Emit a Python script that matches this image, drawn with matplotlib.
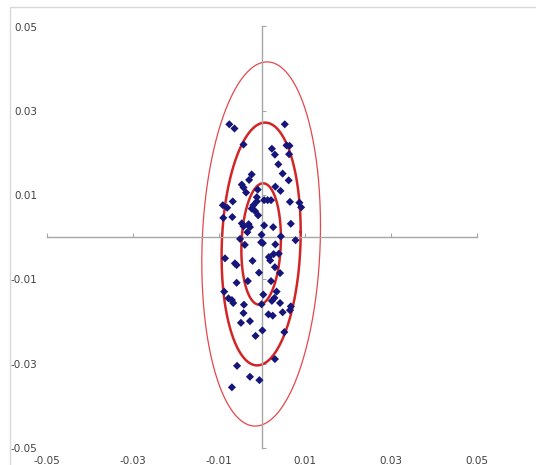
import numpy as np
import matplotlib
matplotlib.use("Agg")
import matplotlib.pyplot as plt
from matplotlib.patches import Rectangle

# scatter points
x_vals = [
    -0.0076, -0.0064, -0.0043, 0.0053, 0.0023, 0.0030, 0.0057, 0.0064, 0.0063, 0.0038,
    0.0048, -0.0024, -0.0030, 0.0062, -0.0047, -0.0043, 0.0031, 0.0043, -0.0010, -0.0037,
    -0.0012, -0.0020, 0.0005, 0.0013, 0.0021, -0.0012, 0.0065, 0.0087, -0.0091, -0.0068,
    0.0091, -0.0081, -0.0090, -0.0069, -0.0016, -0.0009, -0.0024, -0.0047, -0.0043, -0.0031,
    -0.0028, -0.0034, 0.0005, 0.0026, 0.0067, -0.0001, -0.0051, -0.0002, 0.0002, 0.0044,
    0.0078, 0.0031, -0.0040, -0.0086, -0.0063, -0.0059, -0.0022, 0.0016, 0.0027, 0.0039,
    0.0019, 0.0030, 0.0042, -0.0007, -0.0059, -0.0033, 0.0021, -0.0088, 0.0034, -0.0078,
    -0.0070, -0.0067, 0.0003, 0.0029, -0.0001, 0.0023, 0.0042, -0.0042, 0.0067, 0.0065,
    -0.0043, 0.0015, 0.0025, 0.0048, -0.0049, -0.0028, 0.0001, -0.0015, 0.0052, 0.0030,
    -0.0058, -0.0028, -0.0006, -0.0070,
]
y_vals = [
    0.0268, 0.0258, 0.0220, 0.0268, 0.0210, 0.0196, 0.0218, 0.0217, 0.0197, 0.0173,
    0.0151, 0.0149, 0.0136, 0.0135, 0.0125, 0.0118, 0.0120, 0.0110, 0.0113, 0.0106,
    0.0095, 0.0076, 0.0088, 0.0088, 0.0088, 0.0085, 0.0084, 0.0082, 0.0076, 0.0085,
    0.0071, 0.0070, 0.0046, 0.0048, 0.0062, 0.0052, 0.0068, 0.0033, 0.0026, 0.0031,
    0.0024, 0.0012, 0.0028, 0.0024, 0.0032, 0.0006, -0.0004, -0.0012, -0.0014, 0.0002,
    -0.0007, -0.0017, -0.0018, -0.0050, -0.0062, -0.0066, -0.0056, -0.0047, -0.0040, -0.0039,
    -0.0055, -0.0071, -0.0085, -0.0084, -0.0108, -0.0104, -0.0104, -0.0129, -0.0129, -0.0145,
    -0.0149, -0.0156, -0.0136, -0.0144, -0.0159, -0.0151, -0.0156, -0.0160, -0.0164, -0.0173,
    -0.0180, -0.0183, -0.0186, -0.0178, -0.0203, -0.0199, -0.0221, -0.0234, -0.0225, -0.0289,
    -0.0305, -0.0331, -0.0339, -0.0356,
]

# ellipse parameters (centre, spreads, correlation) and sigma levels
center = (-0.0002, -0.0016)
sigma_x = 0.0046
sigma_y = 0.0144
rho = 0.10
levels = [1, 2, 3]
level_widths = [1.8, 1.8, 0.9]

ticks = [-0.05, -0.03, -0.01, 0.01, 0.03, 0.05]
tick_labels = ["-0.05", "-0.03", "-0.01", "0.01", "0.03", "0.05"]


def main() -> None:
    fig = plt.figure(figsize=(5.36, 4.65), dpi=100)
    fig.patches.append(Rectangle((10 / 536, -0.1), 1.2, 1.1 - 7 / 465,
                                 transform=fig.transFigure, fill=False,
                                 edgecolor="#d9d9d9", lw=1.0))

    ax = fig.add_axes([47 / 536, 1 - 448 / 465, 430 / 536, 421.5 / 465])
    ax.set_xlim(-0.05, 0.05)
    ax.set_ylim(-0.05, 0.05)

    # axis lines crossing at zero
    for side in ["right", "top"]:
        ax.spines[side].set_visible(False)
    ax.spines["left"].set_position(("data", 0))
    ax.spines["bottom"].set_position(("data", 0))
    for side in ["left", "bottom"]:
        ax.spines[side].set_color("#a6a6a6")
        ax.spines[side].set_linewidth(1.0)
    ax.set_xticks(ticks)
    ax.set_yticks(ticks)
    ax.tick_params(direction="in", length=3, color="#a6a6a6",
                   labelleft=False, labelbottom=False)

    # labels along the outer edges
    sx = ax.secondary_xaxis("bottom")
    sy = ax.secondary_yaxis("left")
    sx.set_xticks(ticks, tick_labels)
    sy.set_yticks(ticks, tick_labels)
    sx.spines["bottom"].set_visible(False)
    sy.spines["left"].set_visible(False)
    sx.tick_params(length=0, pad=6, labelsize=7.5, labelcolor="#404040")
    sy.tick_params(length=0, pad=7, labelsize=7.5, labelcolor="#404040")

    # confidence ellipses
    cov = np.array([[sigma_x ** 2, rho * sigma_x * sigma_y],
                    [rho * sigma_x * sigma_y, sigma_y ** 2]])
    chol = np.linalg.cholesky(cov)
    t = np.linspace(0, 2 * np.pi, 300)
    circle = np.vstack([np.cos(t), np.sin(t)])
    for k, lw in zip(levels, level_widths):
        pts = k * chol @ circle
        color = "#d22626" if lw > 1 else "#e5484d"
        ax.plot(pts[0] + center[0], pts[1] + center[1], color=color, lw=lw, zorder=2)

    ax.scatter(x_vals, y_vals, marker="D", s=17, color="#15157a",
               edgecolors="none", zorder=3)

    fig.savefig("out.png", dpi=100)
    plt.close(fig)


if __name__ == "__main__":
    main()
